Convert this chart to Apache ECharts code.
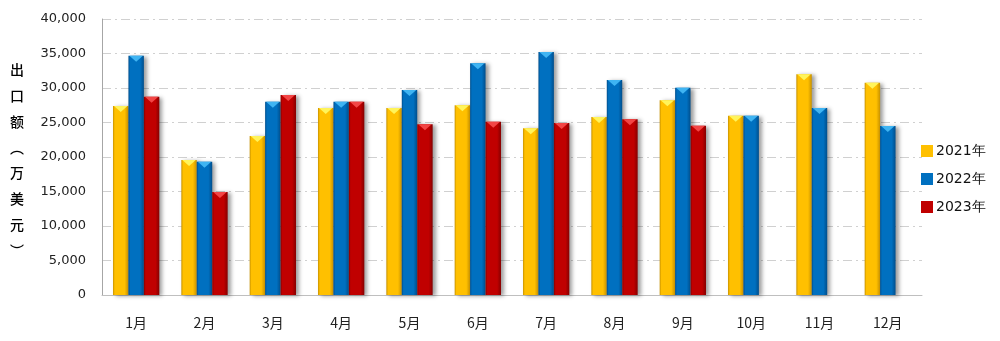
<!DOCTYPE html>
<html>
<head>
<meta charset="utf-8">
<script src="https://cdn.jsdelivr.net/npm/echarts@6/dist/echarts.min.js"></script>
<style>
  html, body { margin: 0; padding: 0; background: #fff; }
  #chart { width: 1000px; height: 341px; }
</style>
</head>
<body>
<div id="chart"></div>
<script>
// Monthly export value (10k USD)
const months = ['1月','2月','3月','4月','5月','6月','7月','8月','9月','10月','11月','12月'];
const years = ['2021年','2022年','2023年'];
const v2021 = [27400, 19560, 23040, 27100, 27100, 27490, 24160, 25800, 28220, 25990, 31990, 30770];
const v2022 = [34680, 19320, 28010, 28010, 29710, 33580, 35220, 31160, 30040, 25990, 27100, 24490];
const v2023 = [28740, 14930, 28990, 28010, 24740, 25120, 24930, 25460, 24540, null, null, null];
const yTicks = [0, 5000, 10000, 15000, 20000, 25000, 30000, 35000, 40000];

const palette = [
  { base: '#FFC000', light: '#FFF45A', dark: '#C89200' },
  { base: '#0070C0', light: '#3FB4F2', dark: '#004E8C' },
  { base: '#C00000', light: '#F24545', dark: '#860000' }
];

const BAR_FRAC = 0.226;

// Beveled column: body with side shading plus a lighter pointed cap
function bevelBar(slot, col) {
  return function (params, api) {
    const cat = api.value(0);
    const val = api.value(1);
    const base = api.coord([cat, 0]);
    const top = api.coord([cat, val]);
    const band = api.size([1, 0])[0];
    const bw = band * BAR_FRAC;
    const x = base[0] - 1.5 * bw + slot * bw;
    const y = top[1];
    const h = base[1] - top[1];
    const cap = Math.min(6, h);
    const body = {
      type: 'rect',
      shape: { x: x, y: y, width: bw, height: h },
      style: {
        fill: new echarts.graphic.LinearGradient(0, 0, 1, 0, [
          { offset: 0, color: col.dark },
          { offset: 0.12, color: col.base },
          { offset: 0.75, color: col.base },
          { offset: 1, color: col.dark }
        ]),
        shadowColor: 'rgba(0,0,0,0.38)',
        shadowBlur: 4,
        shadowOffsetX: 3,
        shadowOffsetY: 1
      }
    };
    const tri = {
      type: 'polygon',
      shape: { points: [[x + 1, y], [x + bw - 1, y], [x + bw / 2, y + cap]] },
      style: { fill: col.light }
    };
    return { type: 'group', children: [body, tri] };
  };
}

function toData(arr) {
  const out = [];
  arr.forEach(function (v, i) { if (v != null) out.push([i, v]); });
  return out;
}

const seriesValues = [v2021, v2022, v2023];
const series = years.map(function (name, i) {
  return {
    name: name,
    type: 'custom',
    renderItem: bevelBar(i, palette[i]),
    encode: { x: 0, y: 1 },
    itemStyle: { color: palette[i].base },
    data: toData(seriesValues[i]),
    z: 3
  };
});

const chart = echarts.init(document.getElementById('chart'), null, { renderer: 'canvas' });
chart.setOption({
  animation: false,
  backgroundColor: '#fff',
  grid: { left: 102, right: 78, top: 19, bottom: 46, containLabel: false },
  legend: {
    orient: 'vertical',
    left: 921,
    top: 144,
    padding: 0,
    icon: 'rect',
    itemWidth: 12,
    itemHeight: 12,
    itemGap: 14,
    textStyle: { fontFamily: 'DejaVu Sans', fontSize: 14, color: '#111', padding: [0, 0, 0, -2] },
    data: years
  },
  xAxis: {
    type: 'category',
    data: months,
    boundaryGap: true,
    axisLine: { show: true, lineStyle: { color: '#bfbfbf', width: 1 } },
    axisTick: { show: false },
    axisLabel: { margin: 21, fontFamily: 'Noto Sans CJK SC', fontSize: 14, color: '#222' },
    splitLine: { show: false }
  },
  yAxis: {
    type: 'value',
    min: yTicks[0],
    max: yTicks[yTicks.length - 1],
    interval: yTicks[1] - yTicks[0],
    axisLine: { show: true, lineStyle: { color: '#a6a6a6', width: 1 } },
    axisTick: { show: false },
    axisLabel: {
      margin: 16,
      fontFamily: 'DejaVu Sans',
      fontSize: 13,
      color: '#222',
      formatter: function (v) { return v.toLocaleString('en-US'); }
    },
    splitLine: { show: true, lineStyle: { color: '#d0d0d0', width: 1, type: [9, 4, 2, 4] } }
  },
  graphic: [{
    type: 'text',
    left: 10,
    top: 57,
    style: {
      text: '出\n口\n额\n︵\n万\n美\n元\n︶',
      fontFamily: 'Noto Sans CJK SC',
      fontSize: 14,
      fontWeight: 500,
      lineHeight: 25.8,
      fill: '#000',
      align: 'center'
    }
  }],
  series: series
});
</script>
</body>
</html>
